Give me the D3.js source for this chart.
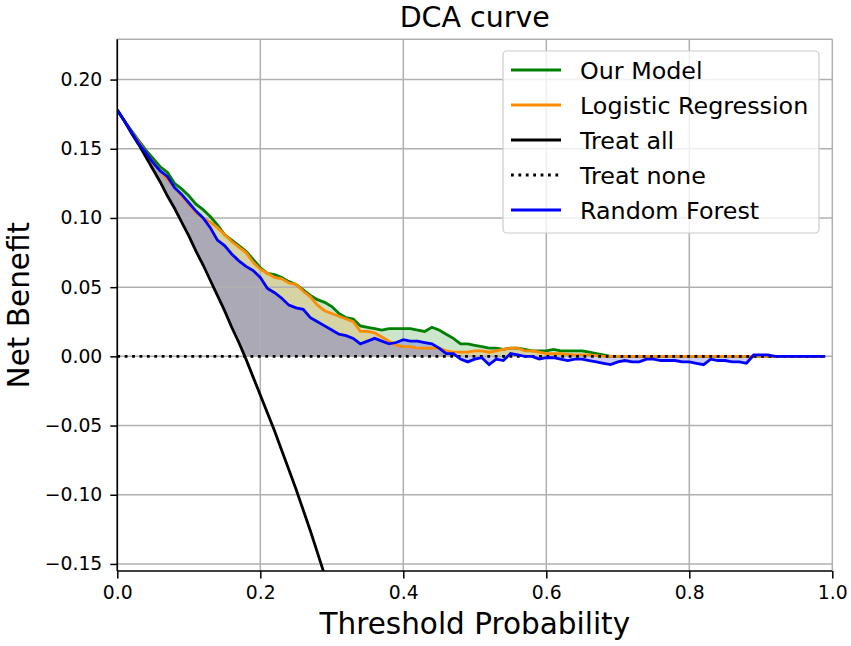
<!DOCTYPE html>
<html lang="en">

<head>
    <meta charset="UTF-8">
    <title>DCA curve</title>
    <script src="https://d3js.org/d3.v7.min.js"></script>
    <style>
        body { margin: 0; background: white; }
        text { font-family: "DejaVu Sans", sans-serif; fill: black; }
    </style>
</head>

<body>
    <script>
        // thresholds 0.00 ... 0.99
        const thresholds = d3.range(100).map(i => i / 100);

        // net benefit, one value per threshold
        const ourModel = [
            0.178, 0.170, 0.163, 0.156, 0.149, 0.143, 0.137, 0.133, 0.125, 0.121,
            0.116, 0.110, 0.106, 0.101, 0.095, 0.088, 0.084, 0.080, 0.076, 0.070,
            0.064, 0.060, 0.059, 0.057, 0.054, 0.052, 0.048, 0.044, 0.041, 0.039,
            0.036, 0.031, 0.028, 0.027, 0.022, 0.021, 0.020, 0.019, 0.020, 0.020,
            0.020, 0.020, 0.019, 0.018, 0.021, 0.019, 0.016, 0.013, 0.009, 0.009,
            0.008, 0.007, 0.006, 0.006, 0.005, 0.006, 0.006, 0.005, 0.004, 0.004,
            0.004, 0.005, 0.004, 0.004, 0.004, 0.004, 0.003, 0.002, 0.001, 0.000,
            0.000, 0.000, 0.000, 0.000, 0.000, 0.000, 0.000, 0.000, 0.000, 0.000,
            0.000, 0.000, 0.000, 0.000, 0.000, 0.000, 0.000, 0.000, 0.000, 0.000,
            0.000, 0.000, 0.000, 0.000, 0.000, 0.000, 0.000, 0.000, 0.000, 0.000
        ];
        const logisticRegression = [
            0.178, 0.170, 0.162, 0.155, 0.147, 0.140, 0.134, 0.128, 0.122, 0.116,
            0.110, 0.104, 0.100, 0.097, 0.093, 0.088, 0.083, 0.079, 0.075, 0.068,
            0.063, 0.060, 0.057, 0.056, 0.053, 0.052, 0.047, 0.043, 0.037, 0.033,
            0.031, 0.029, 0.027, 0.025, 0.018, 0.018, 0.017, 0.014, 0.011, 0.008,
            0.007, 0.007, 0.006, 0.006, 0.006, 0.006, 0.004, 0.003, 0.003, 0.003,
            0.004, 0.004, 0.003, 0.004, 0.005, 0.006, 0.006, 0.004, 0.004, 0.003,
            0.002, 0.002, 0.002, 0.0015, 0.001, 0.001, 0.001, 0.0005, 0.000, 0.000,
            0.000, 0.000, 0.000, 0.000, 0.000, 0.000, 0.000, 0.000, 0.000, 0.000,
            0.000, 0.000, 0.000, 0.000, 0.000, 0.000, 0.000, 0.000, 0.000, 0.000,
            0.000, 0.000, 0.000, 0.000, 0.000, 0.000, 0.000, 0.000, 0.000, 0.000
        ];
        const randomForest = [
            0.178, 0.170, 0.162, 0.154, 0.147, 0.140, 0.134, 0.130, 0.122, 0.117,
            0.111, 0.105, 0.100, 0.093, 0.084, 0.080, 0.074, 0.069, 0.065, 0.062,
            0.057, 0.049, 0.046, 0.042, 0.037, 0.035, 0.034, 0.028, 0.025, 0.022,
            0.019, 0.016, 0.015, 0.013, 0.009, 0.011, 0.013, 0.011, 0.009, 0.010,
            0.012, 0.011, 0.011, 0.010, 0.009, 0.006, 0.002, 0.002, -0.002, -0.004,
            -0.002, -0.001, -0.006, -0.002, -0.003, 0.002, 0.001, 0.000, 0.000, -0.002,
            -0.001, -0.001, -0.002, -0.003, -0.002, -0.002, -0.003, -0.004, -0.005, -0.006,
            -0.004, -0.003, -0.004, -0.004, -0.002, -0.002, -0.003, -0.003, -0.003, -0.004,
            -0.004, -0.005, -0.006, -0.002, -0.003, -0.003, -0.004, -0.004, -0.005, 0.001,
            0.001, 0.001, 0.000, 0.000, 0.000, 0.000, 0.000, 0.000, 0.000, 0.000
        ];
        // treat all, read for thresholds 0.00 ... 0.30 (runs off the bottom after that)
        const treatAll = [
            0.178, 0.170, 0.161, 0.153, 0.144, 0.135, 0.126, 0.116, 0.107, 0.097,
            0.087, 0.076, 0.066, 0.055, 0.044, 0.033, 0.021, 0.010, -0.002, -0.015,
            -0.028, -0.041, -0.054, -0.068, -0.082, -0.096, -0.111, -0.126, -0.142, -0.158,
            -0.174
        ];

        const xTicks = [0, 0.2, 0.4, 0.6, 0.8, 1.0];
        const yTicks = [-0.15, -0.10, -0.05, 0.00, 0.05, 0.10, 0.15, 0.20];

        const series = [
            { name: "Our Model", values: ourModel, color: "#008000" },
            { name: "Logistic Regression", values: logisticRegression, color: "#ff8c00" },
            { name: "Random Forest", values: randomForest, color: "#0000ff" }
        ];

        let width = 851;
        let height = 646;
        let pLeft = 117.3, pRight = 832.3, pTop = 39.3, pBottom = 571;
        let lw = 2.8;
        let dots = '2.8,4.6';

        let svg = d3.select('body')
            .append('svg')
            .attr('width', width)
            .attr('height', height);

        let x = d3.scaleLinear().domain([0, 1]).range([pLeft, pRight]);
        let y = d3.scaleLinear().domain([-0.1551, 0.2291]).range([pBottom, pTop]);

        svg.append('clipPath').attr('id', 'plotClip')
            .append('rect')
            .attr('x', pLeft).attr('y', pTop)
            .attr('width', pRight - pLeft).attr('height', pBottom - pTop);

        // fills go under the grid, lines on top of it
        let fills = svg.append('g').attr('clip-path', 'url(#plotClip)');
        let grid = svg.append('g');
        let lines = svg.append('g').attr('clip-path', 'url(#plotClip)');

        // baseline of the shaded areas: treat all while it is positive, then zero
        const baseline = thresholds.map((t, i) => Math.max(i < treatAll.length ? treatAll[i] : 0, 0));

        // shaded areas
        series.forEach(s => {
            let area = d3.area()
                .x((d, i) => x(thresholds[i]))
                .y0((d, i) => y(baseline[i]))
                .y1(d => y(d));
            fills.append('path')
                .datum(s.values)
                .attr('d', area)
                .attr('fill', s.color)
                .attr('fill-opacity', 0.2);
        });

        // grid
        grid.selectAll('.vgrid')
            .data(xTicks)
            .enter()
            .append('line')
            .attr('x1', d => x(d)).attr('x2', d => x(d))
            .attr('y1', pTop).attr('y2', pBottom)
            .attr('stroke', '#b0b0b0').attr('stroke-width', 1.5);
        grid.selectAll('.hgrid')
            .data(yTicks)
            .enter()
            .append('line')
            .attr('x1', pLeft).attr('x2', pRight)
            .attr('y1', d => y(d)).attr('y2', d => y(d))
            .attr('stroke', '#b0b0b0').attr('stroke-width', 1.5);
        // top edge
        grid.append('line')
            .attr('x1', pLeft).attr('x2', pRight)
            .attr('y1', pTop).attr('y2', pTop)
            .attr('stroke', '#b0b0b0').attr('stroke-width', 1.5);

        let line = d3.line()
            .x((d, i) => x(thresholds[i]))
            .y(d => y(d));

        // lines, in the legend order
        lines.append('path').datum(ourModel).attr('d', line)
            .attr('fill', 'none').attr('stroke', '#008000').attr('stroke-width', lw);
        lines.append('path').datum(logisticRegression).attr('d', line)
            .attr('fill', 'none').attr('stroke', '#ff8c00').attr('stroke-width', lw);
        lines.append('path').datum(treatAll).attr('d', line)
            .attr('fill', 'none').attr('stroke', 'black').attr('stroke-width', lw);
        lines.append('path').datum(thresholds.map(() => 0)).attr('d', line)
            .attr('fill', 'none').attr('stroke', 'black').attr('stroke-width', lw)
            .attr('stroke-dasharray', dots);
        lines.append('path').datum(randomForest).attr('d', line)
            .attr('fill', 'none').attr('stroke', '#0000ff').attr('stroke-width', lw);

        // axes
        let xAxis = svg.append('g')
            .attr('transform', 'translate(0,' + pBottom + ')')
            .call(d3.axisBottom(x).tickValues(xTicks).tickFormat(d3.format('.1f'))
                .tickSize(7.5).tickPadding(7));
        let yAxis = svg.append('g')
            .attr('transform', 'translate(' + pLeft + ',0)')
            .call(d3.axisLeft(y).tickValues(yTicks).tickFormat(d => d3.format('.2f')(d).replace('-', '\u2212'))
                .tickSize(7).tickPadding(8));
        [xAxis, yAxis].forEach(a => {
            a.select('.domain').attr('stroke', 'black').attr('stroke-width', 1.6);
            a.selectAll('.tick line').attr('stroke', 'black').attr('stroke-width', 1.5);
            a.selectAll('.tick text')
                .attr('font-family', '"DejaVu Sans", sans-serif')
                .attr('font-size', 18.8)
                .attr('fill', 'black');
        });
        xAxis.select('.domain').attr('d', 'M' + pLeft + ',0H' + pRight);
        yAxis.select('.domain').attr('d', 'M0,' + pBottom + 'V' + pTop);

        // title and axis labels
        svg.append('text')
            .attr('x', (pLeft + pRight) / 2).attr('y', 27)
            .attr('text-anchor', 'middle')
            .attr('font-size', 28.5)
            .text('DCA curve');
        svg.append('text')
            .attr('x', (pLeft + pRight) / 2).attr('y', 634)
            .attr('text-anchor', 'middle')
            .attr('font-size', 29.5)
            .text('Threshold Probability');
        svg.append('text')
            .attr('transform', 'translate(29,' + ((pTop + pBottom) / 2) + ') rotate(-90)')
            .attr('text-anchor', 'middle')
            .attr('font-size', 29.5)
            .text('Net Benefit');

        // legend
        const legendItems = [
            { name: "Our Model", color: "#008000", dash: null },
            { name: "Logistic Regression", color: "#ff8c00", dash: null },
            { name: "Treat all", color: "black", dash: null },
            { name: "Treat none", color: "black", dash: dots },
            { name: "Random Forest", color: "#0000ff", dash: null }
        ];
        let legend = svg.append('g');
        legend.append('rect')
            .attr('x', 503).attr('y', 51)
            .attr('width', 316).attr('height', 182)
            .attr('rx', 4)
            .attr('fill', 'white').attr('fill-opacity', 0.8)
            .attr('stroke', '#cccccc').attr('stroke-width', 1.2);
        legendItems.forEach((d, i) => {
            let cy = 70 + i * 35;
            legend.append('line')
                .attr('x1', 511).attr('x2', 561)
                .attr('y1', cy).attr('y2', cy)
                .attr('stroke', d.color).attr('stroke-width', lw)
                .attr('stroke-dasharray', d.dash);
            legend.append('text')
                .attr('x', 580).attr('y', cy + 8.5)
                .attr('font-size', 23.8)
                .text(d.name);
        });
    </script>
</body>

</html>
